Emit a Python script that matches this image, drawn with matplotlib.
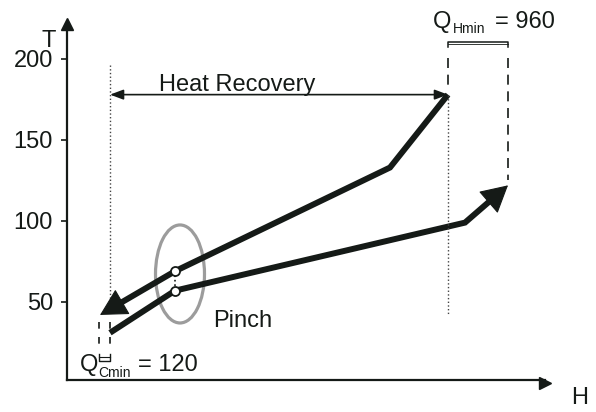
import matplotlib
matplotlib.use("Agg")
import matplotlib.pyplot as plt
from matplotlib.patches import Ellipse
import numpy as np

plt.rcParams['font.family'] = ['Liberation Sans', 'DejaVu Sans']

# Composite curves (H in arbitrary units, T in degrees)
hot_H = [330, 1080, 3230, 3810]
hot_T = [42, 69, 133, 178]
cold_H = [430, 1080, 3980, 4410]
cold_T = [31, 57, 99, 122]

# pinch points
pinch_H = 1080
pinch_T = [69, 57]

# targets
q_hmin = 960
q_cmin = 120
t_ticks = [50, 100, 150, 200]

ink = '#151a17'

fig = plt.figure(figsize=(5.96, 4.12), dpi=100)
ax = fig.add_axes([67 / 596, 32 / 412, 478 / 596, 356.5 / 412])
ax.set_xlim(0, 4780)
ax.set_ylim(1.85, 221.9)

for s in ['top', 'right']:
    ax.spines[s].set_visible(False)
ax.spines['left'].set_linewidth(1.6)
ax.spines['bottom'].set_linewidth(1.6)
ax.spines['left'].set_color(ink)
ax.spines['bottom'].set_color(ink)
ax.plot(0, 1, '^', color=ink, ms=8, transform=ax.get_xaxis_transform(), clip_on=False)
ax.plot(1, 0, '>', color=ink, ms=8, transform=ax.get_yaxis_transform(), clip_on=False)

ax.set_xticks([])
ax.set_yticks(t_ticks)
ax.set_yticklabels([str(t) for t in t_ticks])
ax.tick_params(axis='y', length=4, width=1.2, pad=6, labelsize=17, colors=ink)

ax.text(-180, 211, 'T', fontsize=17, ha='center', va='center', color=ink)
ax.text(5130, -9.5, 'H', fontsize=17, ha='center', va='center', color=ink)


def curve_with_head(H, T, to_end):
    # thick line, stopped inside the arrow head, plus a solid head
    H = list(H)
    T = list(T)
    if not to_end:
        H, T = H[::-1], T[::-1]
    tip = ax.transData.transform((H[-1], T[-1]))
    prev = ax.transData.transform((H[-2], T[-2]))
    d = (tip - prev) / np.hypot(*(tip - prev))
    stop = ax.transData.inverted().transform(tip - d * 15)
    ax.plot(H[:-1] + [stop[0]], T[:-1] + [stop[1]], color=ink, lw=4.3,
            solid_joinstyle='miter', solid_capstyle='butt')
    ax.annotate('', xy=(H[-1], T[-1]), xytext=(H[-2], T[-2]),
                arrowprops=dict(arrowstyle='-|>,head_length=1.75,head_width=0.95',
                                mutation_scale=10, lw=0.8, color=ink,
                                shrinkA=0, shrinkB=0))


curve_with_head(hot_H, hot_T, to_end=False)
curve_with_head(cold_H, cold_T, to_end=True)

# pinch
ax.plot([pinch_H, pinch_H], pinch_T, ':', color=ink, lw=1.2)
ax.plot([pinch_H] * 2, pinch_T, 'o', ms=6.5, mfc='white', mec=ink, mew=1.3, zorder=5)
ax.add_patch(Ellipse((1130, 67.3), 490, 60.5, fill=False, ec='#9c9c9c', lw=2.3))
ax.text(1460, 34.6, 'Pinch', fontsize=17, ha='left', va='baseline', color=ink)

# heat recovery
ax.plot([cold_H[0], cold_H[0]], [196, 51], ':', color='#444444', lw=1.0)
ax.plot([hot_H[-1], hot_H[-1]], [hot_T[-1], 42], ':', color='#444444', lw=1.0)
ax.annotate('', xy=(cold_H[0], hot_T[-1]), xytext=(hot_H[-1], hot_T[-1]),
            arrowprops=dict(arrowstyle='<|-|>,head_length=0.8,head_width=0.3',
                            mutation_scale=10, lw=1.2, color=ink,
                            shrinkA=0, shrinkB=0))
ax.text(1705, 180.4, 'Heat Recovery', fontsize=17, ha='center', va='baseline', color=ink)

# Q_Hmin bracket
for h, t_end in [(hot_H[-1], 180), (cold_H[-1], 125)]:
    ax.plot([h, h], [200.6, t_end], color=ink, lw=1.2, dashes=(6, 4), clip_on=False)
ax.plot([hot_H[-1], hot_H[-1], cold_H[-1], cold_H[-1]], [207.2, 210.6, 210.6, 207.2],
        color=ink, lw=1.1, clip_on=False)
ax.plot([hot_H[-1], cold_H[-1]], [209, 209], color=ink, lw=0.6, clip_on=False)
ax.text(3660, 219, 'Q', fontsize=17, ha='left', va='baseline', color=ink)
ax.text(3860, 216, 'Hmin', fontsize=10, ha='left', va='baseline', color=ink)
ax.text(4280, 219, '= %d' % q_hmin, fontsize=17, ha='left', va='baseline', color=ink)

# Q_Cmin bracket
for h in [320, cold_H[0]]:
    ax.plot([h, h], [37.7, 22.2], color=ink, lw=1.2, dashes=(4, 5))
ax.plot([320, 320, cold_H[0], cold_H[0]], [17.9, 13.6, 13.6, 17.9], color=ink, lw=1.0)
ax.plot([320, cold_H[0]], [16, 16], color=ink, lw=0.8)
ax.text(130, 7.4, 'Q', fontsize=17, ha='left', va='baseline', color=ink)
ax.text(310, 3.7, 'Cmin', fontsize=10, ha='left', va='baseline', color=ink)
ax.text(710, 7.4, '= %d' % q_cmin, fontsize=17, ha='left', va='baseline', color=ink)

fig.savefig('out.png', dpi=100)
